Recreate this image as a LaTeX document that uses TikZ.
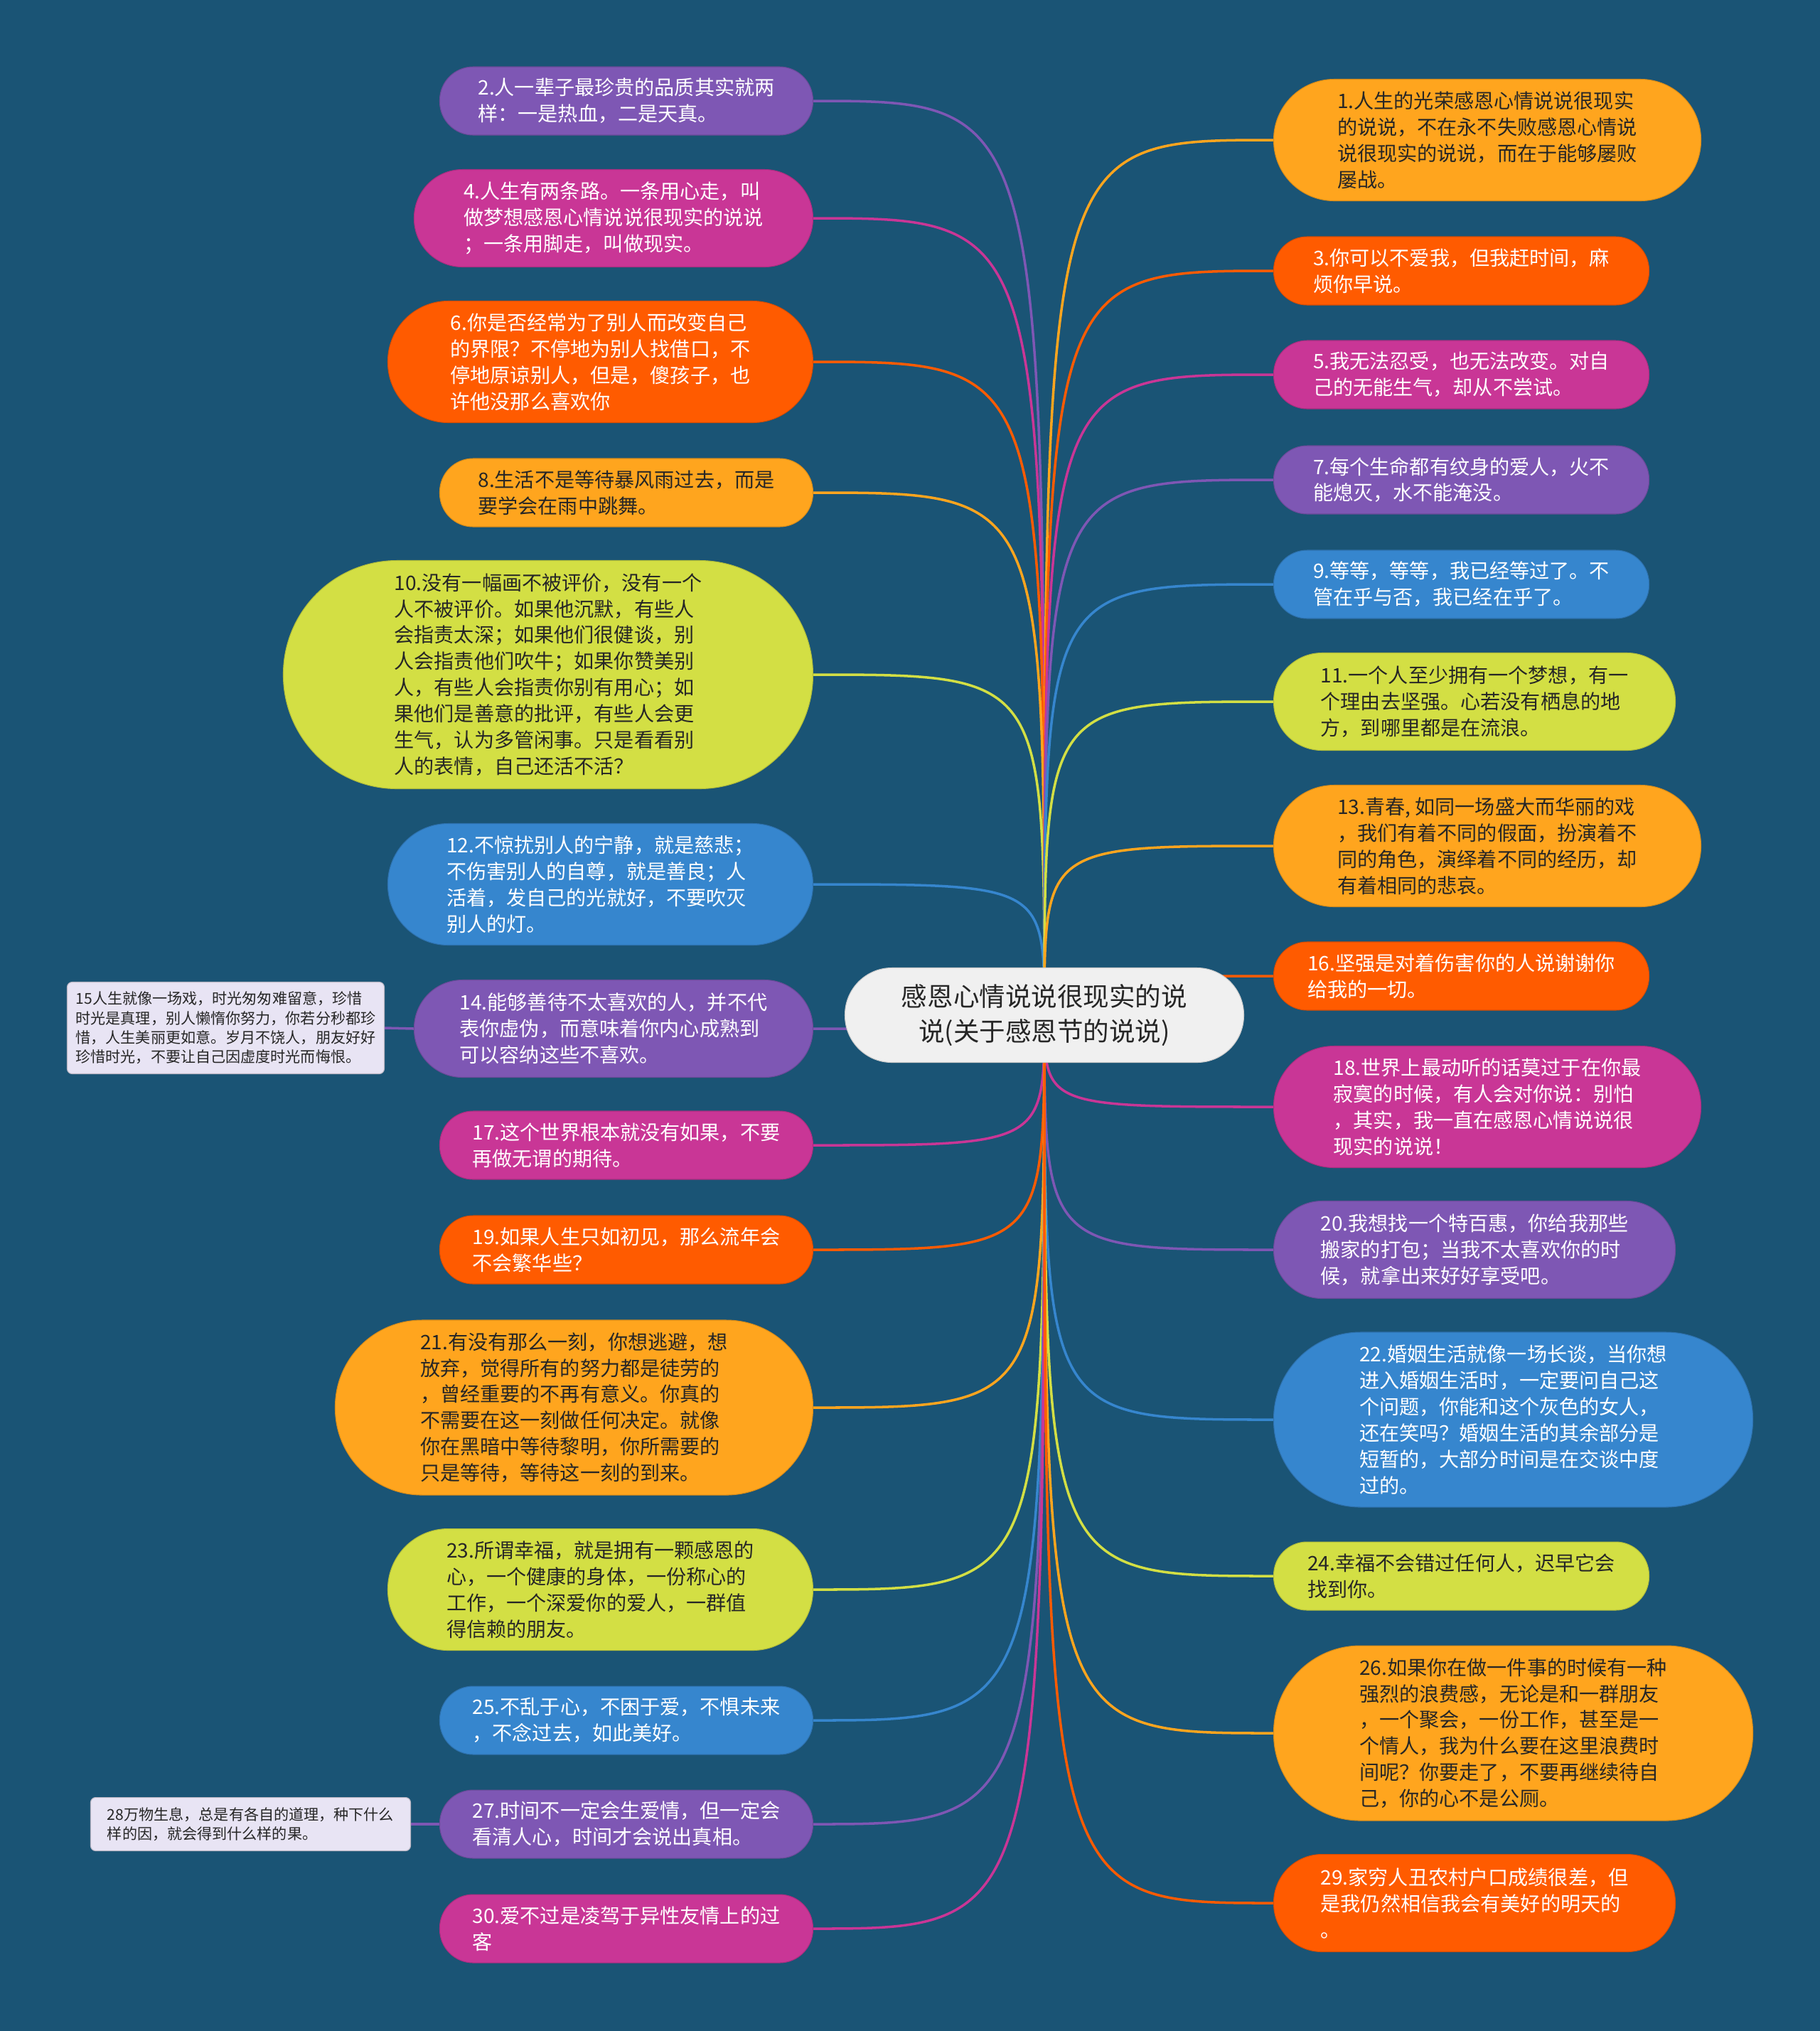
\documentclass[tikz,border=0pt]{standalone}
\usepackage{fontspec}
\newfontfamily\cjk{Noto Sans CJK SC}
\usepackage{tikz}
\usetikzlibrary{positioning}
\pgfdeclarelayer{canvas}
\pgfdeclarelayer{links}
\pgfsetlayers{canvas,links,main}
\definecolor{bgblue}{RGB}{26,84,117}
\definecolor{cPurple}{RGB}{126,87,180}
\definecolor{cMagenta}{RGB}{201,54,150}
\definecolor{cRed}{RGB}{255,91,0}
\definecolor{cAmber}{RGB}{255,165,30}
\definecolor{cLime}{RGB}{211,223,68}
\definecolor{cBlue}{RGB}{54,134,206}
\definecolor{cNote}{RGB}{232,228,244}
\definecolor{cCentre}{RGB}{240,240,240}
\definecolor{inkdark}{RGB}{38,38,38}

\begin{document}
\begin{tikzpicture}[y=-1cm,
  pill/.style={rectangle,fill=#1,draw=#1!85!black,line width=.3pt,inner sep=0pt,align=left,
    font=\cjk\fontsize{8pt}{10.5pt}\selectfont},
  lt/.style={text=white},
  dk/.style={text=inkdark},
  h2/.style={minimum height=.96cm,rounded corners=.47cm},
  h3/.style={minimum height=1.37cm,rounded corners=.68cm},
  h4/.style={minimum height=1.71cm,rounded corners=.85cm},
  h6/.style={minimum height=2.46cm,rounded corners=1.22cm},
  h8/.style={minimum height=3.21cm,rounded corners=1.6cm},
  note/.style={rectangle,fill=cNote,draw=cNote!80!black,line width=.3pt,rounded corners=.07cm,
    inner sep=0pt,align=left,text=inkdark,font=\cjk\fontsize{6pt}{7.8pt}\selectfont},
  link/.style={draw=#1,line width=1pt}]

\begin{pgfonlayer}{canvas}
\fill[bgblue] (0,0) rectangle (25.6,28.57);
\end{pgfonlayer}
\useasboundingbox (0,0) rectangle (25.6,28.57);

% centre
\node[fill=cCentre,draw=cCentre!85!black,line width=.3pt,minimum width=5.61cm,minimum height=1.33cm,
  rounded corners=.66cm,inner sep=0pt,align=center,text=inkdark,
  font=\cjk\fontsize{10.4pt}{14pt}\selectfont] (ctr) at (14.69,14.28)
  {感恩心情说说很现实的说\\说(关于感恩节的说说)};

% left branch
\node[pill=cPurple,lt,h2,minimum width=5.25cm,anchor=east] (n2) at (11.44,1.42)
  {2.人一辈子最珍贵的品质其实就两\\样：一是热血，二是天真。};
\node[pill=cMagenta,lt,h3,minimum width=5.61cm,anchor=east] (n4) at (11.44,3.07)
  {4.人生有两条路。一条用心走，叫\\做梦想感恩心情说说很现实的说说\\；一条用脚走，叫做现实。};
\node[pill=cRed,lt,h4,minimum width=5.98cm,anchor=east] (n6) at (11.44,5.09)
  {6.你是否经常为了别人而改变自己\\的界限？不停地为别人找借口，不\\停地原谅别人，但是，傻孩子，也\\许他没那么喜欢你};
\node[pill=cAmber,dk,h2,minimum width=5.25cm,anchor=east] (n8) at (11.44,6.93)
  {8.生活不是等待暴风雨过去，而是\\要学会在雨中跳舞。};
\node[pill=cLime,dk,h8,minimum width=7.45cm,anchor=east] (n10) at (11.44,9.49)
  {10.没有一幅画不被评价，没有一个\\人不被评价。如果他沉默，有些人\\会指责太深；如果他们很健谈，别\\人会指责他们吹牛；如果你赞美别\\人，有些人会指责你别有用心；如\\果他们是善意的批评，有些人会更\\生气，认为多管闲事。只是看看别\\人的表情，自己还活不活？};
\node[pill=cBlue,lt,h4,minimum width=5.98cm,anchor=east] (n12) at (11.44,12.44)
  {12.不惊扰别人的宁静，就是慈悲；\\不伤害别人的自尊，就是善良；人\\活着，发自己的光就好，不要吹灭\\别人的灯。};
\node[pill=cPurple,lt,h3,minimum width=5.61cm,anchor=east] (n14) at (11.44,14.47)
  {14.能够善待不太喜欢的人，并不代\\表你虚伪，而意味着你内心成熟到\\可以容纳这些不喜欢。};
\node[pill=cMagenta,lt,h2,minimum width=5.25cm,anchor=east] (n17) at (11.44,16.11)
  {17.这个世界根本就没有如果，不要\\再做无谓的期待。};
\node[pill=cRed,lt,h2,minimum width=5.25cm,anchor=east] (n19) at (11.44,17.58)
  {19.如果人生只如初见，那么流年会\\不会繁华些？};
\node[pill=cAmber,dk,h6,minimum width=6.72cm,anchor=east] (n21) at (11.44,19.80)
  {21.有没有那么一刻，你想逃避，想\\放弃，觉得所有的努力都是徒劳的\\，曾经重要的不再有意义。你真的\\不需要在这一刻做任何决定。就像\\你在黑暗中等待黎明，你所需要的\\只是等待，等待这一刻的到来。};
\node[pill=cLime,dk,h4,minimum width=5.98cm,anchor=east] (n23) at (11.44,22.36)
  {23.所谓幸福，就是拥有一颗感恩的\\心，一个健康的身体，一份称心的\\工作，一个深爱你的爱人，一群值\\得信赖的朋友。};
\node[pill=cBlue,lt,h2,minimum width=5.25cm,anchor=east] (n25) at (11.44,24.20)
  {25.不乱于心，不困于爱，不惧未来\\，不念过去，如此美好。};
\node[pill=cPurple,lt,h2,minimum width=5.25cm,anchor=east] (n27) at (11.44,25.66)
  {27.时间不一定会生爱情，但一定会\\看清人心，时间才会说出真相。};
\node[pill=cMagenta,lt,h2,minimum width=5.25cm,anchor=east] (n30) at (11.44,27.13)
  {30.爱不过是凌驾于异性友情上的过\\客};

\node[note,minimum width=4.46cm,minimum height=1.29cm,anchor=east] (n15) at (5.41,14.46)
  {15人生就像一场戏，时光匆匆难留意，珍惜\\时光是真理，别人懒惰你努力，你若分秒都珍\\惜，人生美丽更如意。岁月不饶人，朋友好好\\珍惜时光，不要让自己因虚度时光而悔恨。};
\node[note,minimum width=4.50cm,minimum height=.75cm,anchor=east] (n28) at (5.78,25.66)
  {28万物生息，总是有各自的道理，种下什么\\样的因，就会得到什么样的果。};

% right branch
\node[pill=cAmber,dk,h4,minimum width=6.01cm,anchor=west] (n1) at (17.91,1.97)
  {1.人生的光荣感恩心情说说很现实\\的说说，不在永不失败感恩心情说\\说很现实的说说，而在于能够屡败\\屡战。};
\node[pill=cRed,lt,h2,minimum width=5.28cm,anchor=west] (n3) at (17.91,3.81)
  {3.你可以不爱我，但我赶时间，麻\\烦你早说。};
\node[pill=cMagenta,lt,h2,minimum width=5.28cm,anchor=west] (n5) at (17.91,5.27)
  {5.我无法忍受，也无法改变。对自\\己的无能生气，却从不尝试。};
\node[pill=cPurple,lt,h2,minimum width=5.28cm,anchor=west] (n7) at (17.91,6.75)
  {7.每个生命都有纹身的爱人，火不\\能熄灭，水不能淹没。};
\node[pill=cBlue,lt,h2,minimum width=5.28cm,anchor=west] (n9) at (17.91,8.22)
  {9.等等，等等，我已经等过了。不\\管在乎与否，我已经在乎了。};
\node[pill=cLime,dk,h3,minimum width=5.65cm,anchor=west] (n11) at (17.91,9.87)
  {11.一个人至少拥有一个梦想，有一\\个理由去坚强。心若没有栖息的地\\方，到哪里都是在流浪。};
\node[pill=cAmber,dk,h4,minimum width=6.01cm,anchor=west] (n13) at (17.91,11.90)
  {13.青春, 如同一场盛大而华丽的戏\\，我们有着不同的假面，扮演着不\\同的角色，演绎着不同的经历，却\\有着相同的悲哀。};
\node[pill=cRed,lt,h2,minimum width=5.28cm,anchor=west] (n16) at (17.91,13.73)
  {16.坚强是对着伤害你的人说谢谢你\\给我的一切。};
\node[pill=cMagenta,lt,h4,minimum width=6.01cm,anchor=west] (n18) at (17.91,15.57)
  {18.世界上最动听的话莫过于在你最\\寂寞的时候，有人会对你说：别怕\\，其实，我一直在感恩心情说说很\\现实的说说！};
\node[pill=cPurple,lt,h3,minimum width=5.65cm,anchor=west] (n20) at (17.91,17.58)
  {20.我想找一个特百惠，你给我那些\\搬家的打包；当我不太喜欢你的时\\候，就拿出来好好享受吧。};
\node[pill=cBlue,lt,h6,minimum width=6.74cm,anchor=west] (n22) at (17.91,19.97)
  {22.婚姻生活就像一场长谈，当你想\\进入婚姻生活时，一定要问自己这\\个问题，你能和这个灰色的女人，\\还在笑吗？婚姻生活的其余部分是\\短暂的，大部分时间是在交谈中度\\过的。};
\node[pill=cLime,dk,h2,minimum width=5.28cm,anchor=west] (n24) at (17.91,22.17)
  {24.幸福不会错过任何人，迟早它会\\找到你。};
\node[pill=cAmber,dk,h6,minimum width=6.74cm,anchor=west] (n26) at (17.91,24.38)
  {26.如果你在做一件事的时候有一种\\强烈的浪费感，无论是和一群朋友\\，一个聚会，一份工作，甚至是一\\个情人，我为什么要在这里浪费时\\间呢？你要走了，不要再继续待自\\己，你的心不是公厕。};
\node[pill=cRed,lt,h3,minimum width=5.65cm,anchor=west] (n29) at (17.91,26.77)
  {29.家穷人丑农村户口成绩很差，但\\是我仍然相信我会有美好的明天的\\。};

\begin{pgfonlayer}{links}
\foreach \n/\c in {2/cPurple,4/cMagenta,6/cRed,8/cAmber,10/cLime,12/cBlue,14/cPurple,
  17/cMagenta,19/cRed,21/cAmber,23/cLime,25/cBlue,27/cPurple,30/cMagenta}
  \draw[link=\c] (ctr.center) .. controls (ctr.center |- n\n.east) .. (n\n.east);
\foreach \n/\c in {1/cAmber,3/cRed,5/cMagenta,7/cPurple,9/cBlue,11/cLime,13/cAmber,
  16/cRed,18/cMagenta,20/cPurple,22/cBlue,24/cLime,26/cAmber,29/cRed}
  \draw[link=\c] (ctr.center) .. controls (ctr.center |- n\n.west) .. (n\n.west);
\draw[link=cPurple] (n14.west) -- (n15.east);
\draw[link=cPurple] (n27.west) -- (n28.east);
\end{pgfonlayer}
\end{tikzpicture}
\end{document}
